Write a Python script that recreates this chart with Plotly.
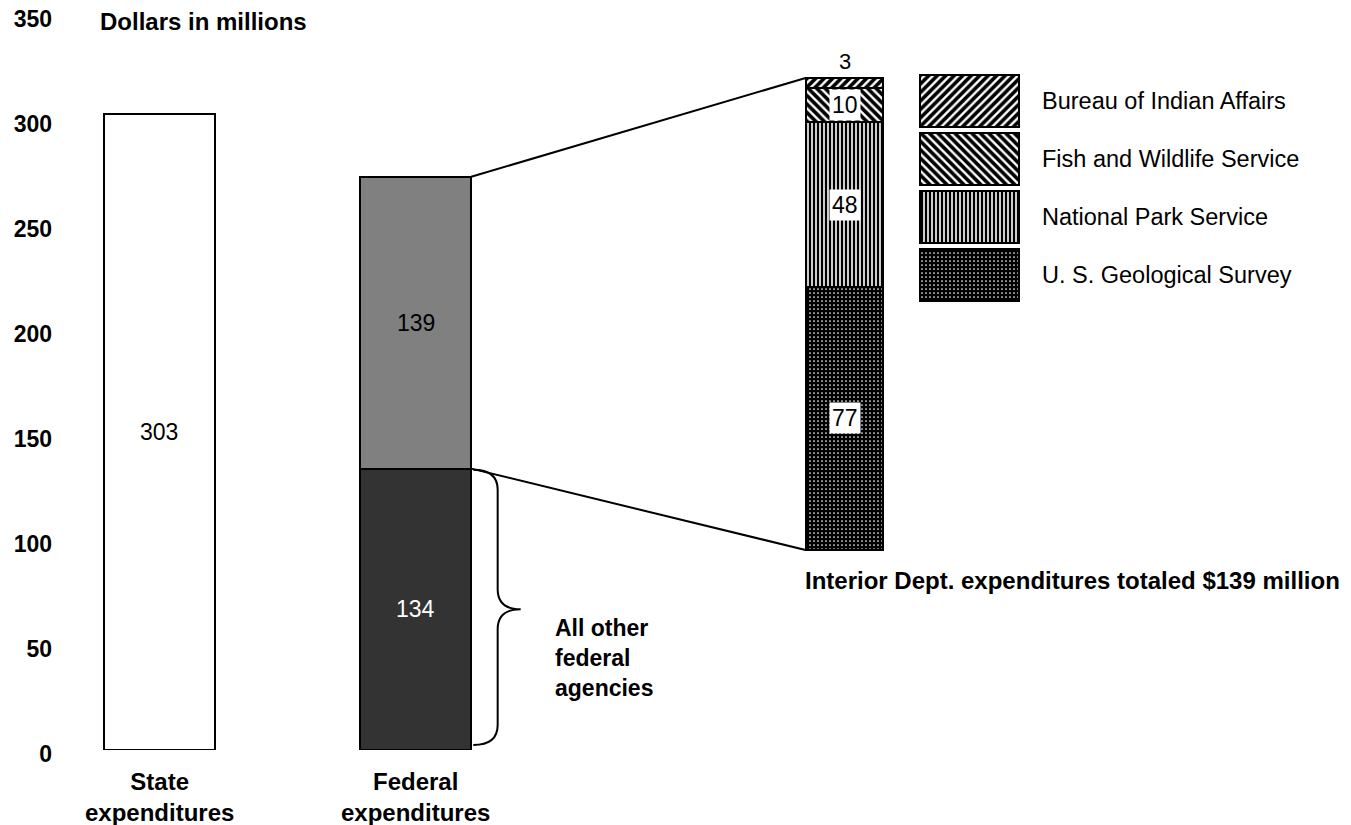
import plotly.graph_objects as go
import numpy as np

# ---------------- data ----------------
state_label = "State<br>expenditures"
federal_label = "Federal<br>expenditures"
state_value = 303
federal_other = 134          # All other federal agencies
federal_interior = 139       # Interior Dept.
interior_agencies = ["U. S. Geological Survey", "National Park Service",
                     "Fish and Wildlife Service", "Bureau of Indian Affairs"]
interior_values = [77, 48, 10, 3]
y_ticks = [0, 50, 100, 150, 200, 250, 300, 350]

# ---------------- layout constants ----------------
FONT = "Liberation Sans, Arial, Helvetica, sans-serif"
FS = 23
FSB = 24
X_STATE, X_FED, X_INT, X_LEG = 1.0, 2.0, 3.673, 4.162
BW, BW_INT, BW_LEG = 0.433, 0.304, 0.386
X_RANGE = [0.5965, 5.649]
Y1_RANGE = [0, 350]
Y2_RANGE = [-58.47, 156.42]
Y3_RANGE = [11.19, -1.483]

patterns = {
    "U. S. Geological Survey": dict(shape=".", fgcolor="white", bgcolor="black", size=4,
                                    solidity=0.15, fgopacity=1),
    "National Park Service": dict(shape="|", fgcolor="black", bgcolor="white", size=4,
                                  solidity=0.6, fgopacity=1),
    "Fish and Wildlife Service": dict(shape="\\", fgcolor="black", bgcolor="white", size=6,
                                      solidity=0.6, fgopacity=1),
    "Bureau of Indian Affairs": dict(shape="/", fgcolor="black", bgcolor="white", size=6,
                                     solidity=0.6, fgopacity=1),
}

def y1_paper(v):
    return (v - Y1_RANGE[0]) / (Y1_RANGE[1] - Y1_RANGE[0])

def y2_paper(v):
    return (v - Y2_RANGE[0]) / (Y2_RANGE[1] - Y2_RANGE[0])

fig = go.Figure()
line = dict(color="black", width=2)

# State bar
fig.add_trace(go.Bar(x=[X_STATE], y=[state_value], width=BW, marker=dict(color="white", line=line),
                     showlegend=False, hoverinfo="skip"))
# Federal stacked (explicit bases)
fig.add_trace(go.Bar(x=[X_FED], y=[federal_other], base=[0], width=BW,
                     marker=dict(color="#333333", line=line), showlegend=False, hoverinfo="skip"))
fig.add_trace(go.Bar(x=[X_FED], y=[federal_interior], base=[federal_other], width=BW,
                     marker=dict(color="#808080", line=line), showlegend=False, hoverinfo="skip"))

# Interior breakdown on y2
bases = np.concatenate([[0], np.cumsum(interior_values)[:-1]])
for name, v, b in zip(interior_agencies, interior_values, bases):
    fig.add_trace(go.Bar(x=[X_INT], y=[v], base=[b], width=BW_INT, yaxis="y2",
                         marker=dict(color="white", line=line, pattern=patterns[name]),
                         showlegend=False, hoverinfo="skip", name=name))

# Custom legend swatches on y3 (slot axis, top to bottom)
legend_order = interior_agencies[::-1]
for i, name in enumerate(legend_order):
    fig.add_trace(go.Bar(x=[X_LEG], y=[0.897], base=[i - 0.4485], width=BW_LEG, yaxis="y3",
                         marker=dict(color="white", line=line, pattern=patterns[name]),
                         showlegend=False, hoverinfo="skip"))

ann = []
# value labels
ann.append(dict(x=X_STATE, y=state_value / 2, xref="x", yref="y", text=str(state_value),
                showarrow=False, font=dict(family=FONT, size=FS, color="black")))
ann.append(dict(x=X_FED, y=federal_other + federal_interior / 2, xref="x", yref="y",
                text=str(federal_interior), showarrow=False, font=dict(family=FONT, size=FS, color="black")))
ann.append(dict(x=X_FED, y=federal_other / 2, xref="x", yref="y", text=str(federal_other),
                showarrow=False, font=dict(family=FONT, size=FS, color="white")))
for name, v, b in zip(interior_agencies, interior_values, bases):
    if v >= 10:
        ann.append(dict(x=X_INT, y=b + v / 2, xref="x", yref="y2", text=str(v), showarrow=False,
                        bgcolor="white", borderpad=2, font=dict(family=FONT, size=FS, color="black")))
    else:
        ann.append(dict(x=X_INT, y=b + v, xref="x", yref="y2", text=str(v), showarrow=False,
                        yanchor="bottom", yshift=2, font=dict(family=FONT, size=FS - 1, color="black")))
# legend texts
for i, name in enumerate(legend_order):
    ann.append(dict(x=4.448, y=i, xref="x", yref="y3", text=name, showarrow=False, xshift=-3,
                    xanchor="left", yanchor="middle", font=dict(family=FONT, size=23.5, color="black")))
# titles/labels
ann.append(dict(x=0.772, y=0.9905, xref="x", yref="paper", text="<b>Dollars in millions</b>",
                showarrow=False, xanchor="left", yanchor="middle", xshift=-3,
                font=dict(family=FONT, size=FSB, color="black")))
for xv, lab in [(X_STATE, state_label), (X_FED, federal_label)]:
    ann.append(dict(x=xv, y=0, xref="x", yref="paper", text="<b>" + lab + "</b>", showarrow=False,
                    yanchor="top", yshift=-16, font=dict(family=FONT, size=FSB, color="black")))
ann.append(dict(x=2.5458, y=44, xref="x", yref="y", text="<b>All other<br>federal<br>agencies</b>",
                showarrow=False, xanchor="left", yanchor="middle", align="left", xshift=-3,
                font=dict(family=FONT, size=FS, color="black")))
ann.append(dict(x=X_INT - BW_INT / 2, y=-9.0, xref="x", yref="y2",
                text="<b>Interior Dept. expenditures totaled $%d million</b>" % federal_interior,
                showarrow=False, xanchor="left", yanchor="middle", xshift=-3,
                font=dict(family=FONT, size=FSB, color="black")))

shapes = []
fed_right = X_FED + BW / 2
int_left = X_INT - BW_INT / 2
total_interior = float(np.sum(interior_values))
shapes.append(dict(type="line", xref="x", yref="paper", x0=fed_right, x1=int_left,
                   y0=y1_paper(federal_other + federal_interior), y1=y2_paper(total_interior),
                   line=dict(color="black", width=2)))
shapes.append(dict(type="line", xref="x", yref="paper", x0=fed_right, x1=int_left,
                   y0=y1_paper(federal_other), y1=y2_paper(0),
                   line=dict(color="black", width=2)))
# brace
x0 = fed_right + 0.008
xm = 2.3197
xt = 2.4094
top = federal_other - 0.5
bot = 2.4
mid = federal_other / 2
d = 9.5
path = (f"M {x0},{top} Q {xm},{top} {xm},{top-d} L {xm},{mid+d} Q {xm},{mid} {xt},{mid} "
        f"Q {xm},{mid} {xm},{mid-d} L {xm},{bot+d} Q {xm},{bot} {x0},{bot}")
shapes.append(dict(type="path", xref="x", yref="y", path=path, line=dict(color="black", width=2)))

fig.update_layout(
    width=1351, height=825,
    margin=dict(l=56, r=0, t=15, b=75),
    paper_bgcolor="white", plot_bgcolor="white",
    barmode="overlay", bargap=0,
    showlegend=False,
    font=dict(family=FONT, color="black"),
    xaxis=dict(range=X_RANGE, visible=False, fixedrange=True),
    yaxis=dict(range=Y1_RANGE, tickvals=y_ticks, ticktext=["<b>%d</b>" % t for t in y_ticks],
               showgrid=False, zeroline=False, showline=False, ticks="",
               tickfont=dict(family=FONT, size=23, color="black"), ticklabelshift=4,
               ticklabelstandoff=3, ticklabeloverflow="allow"),
    yaxis2=dict(range=Y2_RANGE, overlaying="y", visible=False),
    yaxis3=dict(range=Y3_RANGE, overlaying="y", visible=False),
    annotations=ann, shapes=shapes,
)

fig.write_html("out.html")
